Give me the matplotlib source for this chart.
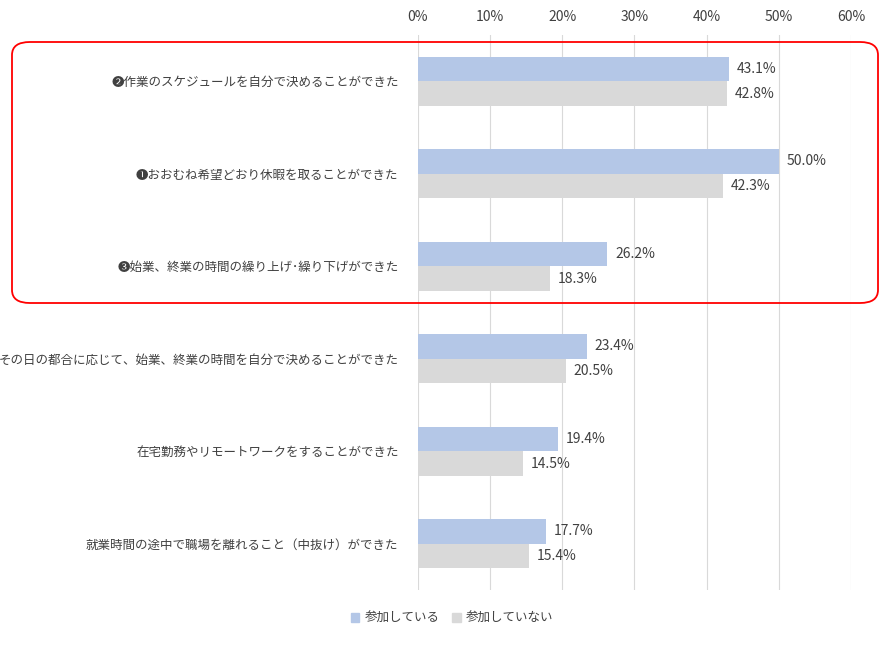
import matplotlib
matplotlib.use("Agg")
import matplotlib.pyplot as plt
from matplotlib.patches import FancyBboxPatch, Patch
import numpy as np

plt.rcParams["font.family"] = ["Noto Sans CJK JP", "DejaVu Sans"]

categories = [
    "❷作業のスケジュールを自分で決めることができた",
    "❶おおむね希望どおり休暇を取ることができた",
    "❸始業、終業の時間の繰り上げ･繰り下げができた",
    "その日の都合に応じて、始業、終業の時間を自分で決めることができた",
    "在宅勤務やリモートワークをすることができた",
    "就業時間の途中で職場を離れること（中抜け）ができた",
]
participating = [43.1, 50.0, 26.2, 23.4, 19.4, 17.7]
not_participating = [42.8, 42.3, 18.3, 20.5, 14.5, 15.4]
series_names = ["参加している", "参加していない"]
xticks = [0, 10, 20, 30, 40, 50, 60]

tc = "#404040"
fig = plt.figure(figsize=(8.95, 6.48), dpi=100)
ax = fig.add_axes([418/895, 1-590/648, (851-418)/895, (590-35)/648])
y = np.arange(len(categories))
h = 0.265
ax.barh(y - h/2, participating, height=h, color="#B4C7E7", zorder=3)
ax.barh(y + h/2, not_participating, height=h, color="#D9D9D9", zorder=3)
for yi, v in zip(y, participating):
    ax.text(v + 1.1, yi - h/2, f"{v:.1f}%", va="center", ha="left", fontsize=10, color=tc)
for yi, v in zip(y, not_participating):
    ax.text(v + 1.1, yi + h/2, f"{v:.1f}%", va="center", ha="left", fontsize=10, color=tc)
ax.set_xlim(0, 60)
ax.set_ylim(len(categories) - 0.5, -0.5)
ax.set_yticks(y)
ax.set_yticklabels(categories, fontsize=9, color=tc)
ax.set_xticks(xticks)
ax.set_xticklabels([f"{t}%" for t in xticks], fontsize=10, color=tc)
ax.xaxis.tick_top()
ax.tick_params(length=0, pad=8)
ax.tick_params(axis="y", pad=14)
ax.grid(axis="x", color="#D9D9D9", lw=0.8, zorder=0)
for s in ax.spines.values():
    s.set_visible(False)

box = FancyBboxPatch((12/895, 1-303/648), (878-12)/895, (303-42)/648,
                     boxstyle="round,pad=0,rounding_size=0.02", transform=fig.transFigure,
                     fill=False, ec="#FF0000", lw=1.3)
fig.patches.append(box)

handles = [Patch(color="#B4C7E7"), Patch(color="#D9D9D9")]
fig.legend(handles, series_names, loc="center", bbox_to_anchor=(452/895, 1-618/648),
           ncol=2, frameon=False, fontsize=9, handlelength=0.7, handleheight=0.7,
           handletextpad=0.4, columnspacing=1.0, labelcolor=tc)
fig.savefig("out.png", dpi=100)
